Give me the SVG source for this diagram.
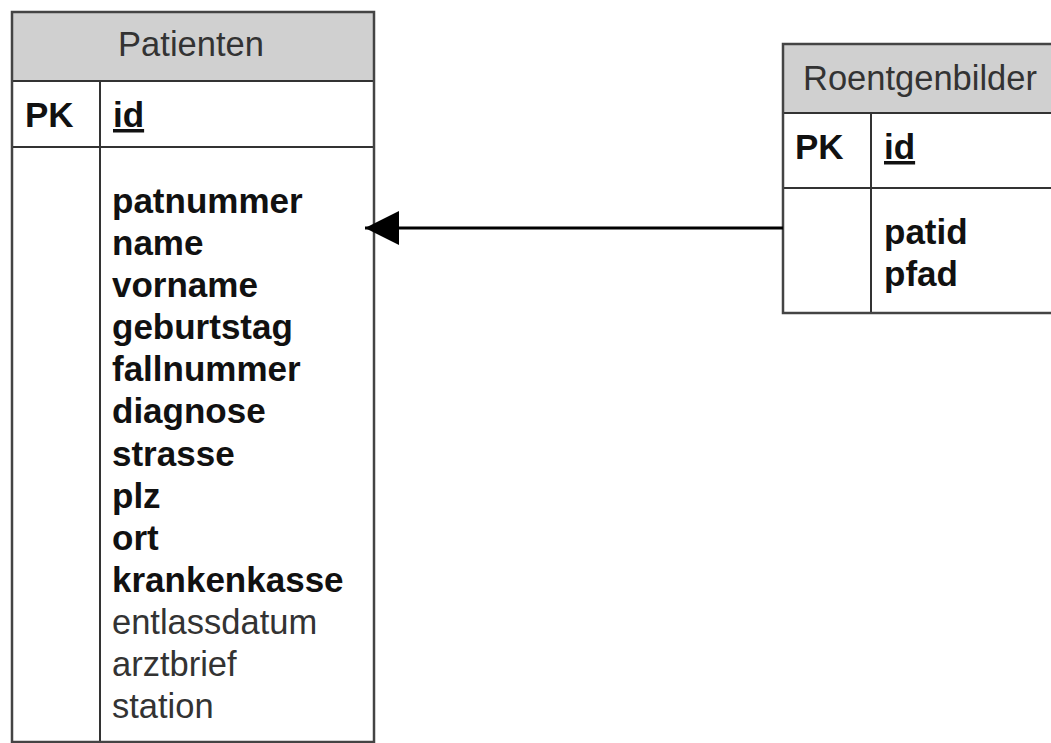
<svg xmlns="http://www.w3.org/2000/svg" width="1051" height="743" viewBox="0 0 1051 743">
  <defs>
    <style>
      .hdr { fill: #d0d0d0; }
      .box { fill: #ffffff; }
      .edge { stroke: #444444; stroke-width: 2.5; fill: none; }
      .sep { stroke: #333333; stroke-width: 2; }
      .title { font-family: "Liberation Sans", Arial, sans-serif; font-size: 34.5px; fill: #333333; text-anchor: middle; }
      .fld { font-family: "Liberation Sans", Arial, sans-serif; font-size: 34.5px; fill: #111111; }
      .b { font-weight: bold; font-size: 35px; }
      .r { fill: #333333; }
      .conn { stroke: #000000; stroke-width: 3; fill: none; }
    </style>
    <marker id="arrow" markerUnits="userSpaceOnUse" markerWidth="36" markerHeight="36" refX="34" refY="17" orient="auto">
      <path d="M0,0 L34,17 L0,34 Z" fill="#000000"/>
    </marker>
  </defs>
  <rect width="1051" height="743" fill="#ffffff"/>

  <!-- Patienten table -->
  <g id="patienten">
    <rect class="box" x="12" y="12" width="362" height="730"/>
    <rect class="hdr" x="12" y="12" width="362" height="69"/>
    <text class="title" x="191" y="56">Patienten</text>
    <line class="sep" x1="12" y1="81" x2="374" y2="81"/>
    <line class="sep" x1="12" y1="147" x2="374" y2="147"/>
    <line class="sep" x1="100" y1="81" x2="100" y2="742"/>
    <text class="fld b" x="25" y="127">PK</text>
    <text class="fld b" x="113" y="127" text-decoration="underline">id</text>
    <text class="fld b" x="112" y="213">patnummer</text>
    <text class="fld b" x="112" y="255">name</text>
    <text class="fld b" x="112" y="297">vorname</text>
    <text class="fld b" x="112" y="339">geburtstag</text>
    <text class="fld b" x="112" y="381">fallnummer</text>
    <text class="fld b" x="112" y="423">diagnose</text>
    <text class="fld b" x="112" y="466">strasse</text>
    <text class="fld b" x="112" y="508">plz</text>
    <text class="fld b" x="112" y="550">ort</text>
    <text class="fld b" x="112" y="592">krankenkasse</text>
    <text class="fld r" x="112" y="634">entlassdatum</text>
    <text class="fld r" x="112" y="676">arztbrief</text>
    <text class="fld r" x="112" y="718">station</text>
    <rect class="edge" x="12" y="12" width="362" height="730"/>
  </g>

  <!-- Roentgenbilder table -->
  <g id="roentgenbilder">
    <rect class="box" x="783" y="44" width="280" height="269"/>
    <rect class="hdr" x="783" y="44" width="280" height="69"/>
    <text class="title" x="920" y="90">Roentgenbilder</text>
    <line class="sep" x1="783" y1="113" x2="1063" y2="113"/>
    <line class="sep" x1="783" y1="188" x2="1063" y2="188"/>
    <line class="sep" x1="871" y1="113" x2="871" y2="313"/>
    <text class="fld b" x="795" y="159">PK</text>
    <text class="fld b" x="884" y="159" text-decoration="underline">id</text>
    <text class="fld b" x="884" y="244">patid</text>
    <text class="fld b" x="884" y="286">pfad</text>
    <rect class="edge" x="783" y="44" width="280" height="269"/>
  </g>

  <!-- Relationship: Roentgenbilder.patid -> Patienten -->
  <g id="connectors">
    <line class="conn" x1="783" y1="228" x2="365" y2="228" marker-end="url(#arrow)"/>
  </g>
</svg>
